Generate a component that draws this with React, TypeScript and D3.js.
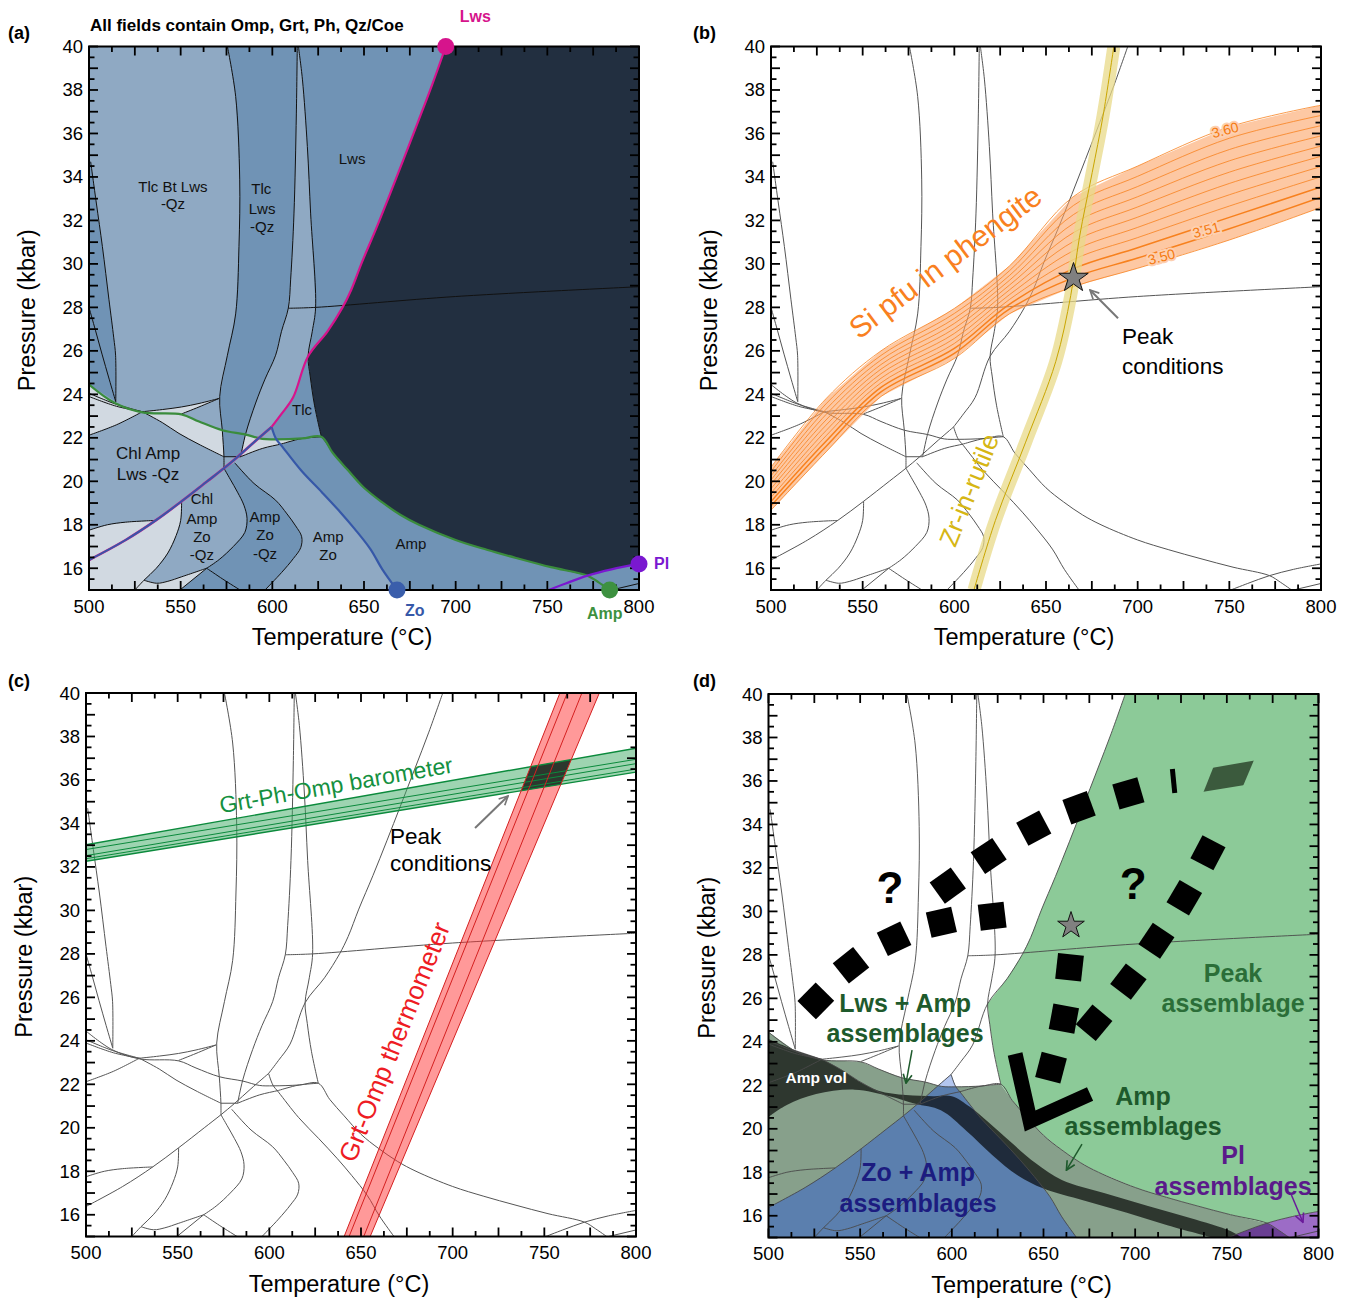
import { useEffect, useRef } from 'react'
import * as d3 from 'd3'

type Pt = [number, number]

// ---- phase boundaries, [T (°C), P (kbar)], shared by all four panels ----
const lwsOut: Pt[] = [[694.6, 40], [687, 38.2], [679.3, 36.5], [671.5, 34.8], [664.1, 33.2], [656.5, 31.6], [648.8, 30.06], [643, 28.8], [638.3, 28.0], [630.1, 26.9], [619.5, 25.75], [611.3, 23.85], [605, 23.1], [599.6, 22.5]]
const zoIn: Pt[] = [[599.6, 22.5], [590, 21.8], [581, 21.12], [573.6, 20.6], [564.5, 20.0], [550.5, 19.08], [536.4, 18.2], [520, 17.3], [500, 16.38]]
const zoOut: Pt[] = [[599.6, 22.5], [602, 21.96], [605, 21.64], [616, 20.47], [627, 19.5], [637.1, 18.58], [645, 17.8], [653.5, 16.88], [660, 15.95], [668, 15]]
const ampOut: Pt[] = [[500, 24.45], [514.1, 23.6], [529.2, 23.17], [550.4, 23.08], [560, 22.75], [572.7, 22.35], [585.5, 22.15], [594.5, 21.95], [602, 21.93], [616.4, 21.97], [626.7, 22.05], [633, 21.3], [640.8, 20.55], [650, 19.7], [659.6, 19.05], [670, 18.45], [680, 18.0], [700, 17.3], [717, 16.85], [734, 16.45], [752, 16.05], [771.9, 15.66], [778, 15.35], [784, 15]]
const plIn: Pt[] = [[750.8, 15], [760, 15.3], [771.9, 15.66], [785, 15.95], [800, 16.2]]

const line1: Pt[] = [[500.9, 34.7], [504, 32.8], [507.3, 30.8], [510.9, 28.35], [513.5, 26.6], [514.5, 25.8], [514.6, 23.66]]
const line2: Pt[] = [[500, 28.0], [503.5, 26.95], [507.1, 25.85], [511, 24.7], [514.6, 23.66]]
const line3: Pt[] = [[575.5, 40], [580, 37.7], [582.2, 33.9], [581.8, 30.8], [580, 27.7], [575.5, 25.8], [571.3, 23.9], [572.7, 22.35], [573.6, 21.13], [573.6, 20.6]]
const line4: Pt[] = [[613.6, 40], [613.1, 36.9], [611.8, 32.3], [610, 29.3], [608.7, 27.96], [605, 26.9], [601.8, 25.8], [596, 24.7], [590.9, 23.6], [585.5, 22.2], [582.7, 21.13]]
const line5: Pt[] = [[614.2, 40], [616.4, 38.5], [619.1, 35.4], [620.9, 32.3], [623.6, 28.0], [621.8, 26.9], [619.5, 25.75], [620.7, 24.8], [623, 23.5], [626.7, 22.05]]
const line6: Pt[] = [[608.7, 27.96], [623.6, 28.0], [700, 28.5], [800, 28.95]]
const line7: Pt[] = [[573.6, 21.13], [582.7, 21.13]]
const line8: Pt[] = [[582.7, 21.13], [594.5, 21.51], [605, 21.72], [609.1, 21.82], [616.4, 21.97], [626.7, 22.05]]
const line9: Pt[] = [[573.6, 20.6], [577, 20.1], [581, 19.5], [584.5, 18.9], [586.2, 18.3], [585, 17.65], [578.7, 17.0], [571, 16.4], [564.2, 16.0]]
const line10: Pt[] = [[564.2, 16.0], [573, 15.5], [582.4, 15]]
const line11: Pt[] = [[564.2, 16.0], [549.6, 15]]
const line12: Pt[] = [[530, 15.45], [536.9, 15.31], [543, 15.4], [550.6, 15.61], [564.2, 16.0]]
const line13: Pt[] = [[550.5, 19.08], [550, 18.2], [547.5, 17.5], [543, 16.7], [536.7, 16.0], [530, 15.45], [525, 15]]
const line14: Pt[] = [[579.5, 20.85], [590, 19.9], [601.8, 19.13], [608, 18.5], [612.7, 17.95], [616, 17.45], [615.5, 16.95], [611.5, 16.45], [605, 15.8], [596, 15]]
const line15: Pt[] = [[500, 17.75], [510, 18.0], [520, 18.12], [536.4, 18.2]]
const line16: Pt[] = [[529.1, 23.2], [540, 22.7], [549.1, 22.2], [560, 21.7], [573.6, 21.13]]
const line17: Pt[] = [[500, 22.12], [515, 22.6], [529.1, 23.2]]
const line18: Pt[] = [[500, 24.05], [514.6, 23.55], [529.1, 23.2]]
const line19: Pt[] = [[500, 23.9], [515, 23.45], [529.1, 23.2]]
const line20: Pt[] = [[529.1, 23.2], [540, 23.3], [550.5, 23.42], [560, 23.58], [570.9, 23.81]]
const line21: Pt[] = [[550.5, 23.1], [560, 23.42], [570.9, 23.81]]
const line22: Pt[] = [[785, 15], [800, 15.3]]
const blackLines = [line1, line2, line3, line4, line5, line6, line7, line8, line9, line10, line11, line12, line13, line14, line15, line16, line17, line18, line19, line20, line21, line22]
const colouredLines = [lwsOut, zoIn, zoOut, ampOut, plIn]

// ---- (b) Si-in-phengite isopleths and Zr-in-rutile ----
const siT = [500, 530, 560, 600, 630, 665, 700, 750, 800]
const siIsopleths: number[][] = [
  [18.67, 21.35, 23.9, 25.65, 27.7, 28.95, 29.8, 31.1, 32.6],
  [18.87, 21.6, 24.11, 25.88, 27.92, 29.37, 30.27, 31.62, 33.07],
  [19.07, 21.84, 24.32, 26.11, 28.14, 29.78, 30.74, 32.14, 33.54],
  [19.26, 22.09, 24.53, 26.34, 28.36, 30.2, 31.21, 32.66, 34.01],
  [19.46, 22.33, 24.74, 26.57, 28.58, 30.61, 31.68, 33.18, 34.48],
  [19.66, 22.58, 24.95, 26.8, 28.8, 31.03, 32.15, 33.7, 34.95],
  [19.86, 22.82, 25.16, 27.03, 29.02, 31.44, 32.62, 34.22, 35.42],
  [20.06, 23.07, 25.37, 27.26, 29.24, 31.86, 33.09, 34.74, 35.89],
  [20.25, 23.31, 25.58, 27.49, 29.46, 32.27, 33.56, 35.26, 36.36],
  [20.45, 23.56, 25.79, 27.72, 29.68, 32.69, 34.03, 35.78, 36.83],
  [20.65, 23.8, 26.0, 27.95, 29.9, 33.1, 34.5, 36.3, 37.3],
]
const siLabelText = ['3.50', '3.51', '3.60']
const siLabelT = [713, 737.4, 747.7]
const siLabelP = [30.33, 31.56, 36.16]
const zrRutile: Pt[] = [[610.7, 15], [622.4, 18.2], [638.9, 21.8], [655.3, 25.5], [663.5, 28.55], [668.2, 31.2], [675.2, 34.2], [681.1, 36.8], [687, 40]]
const peak: Pt = [665, 29.35]

// ---- (c) barometer / thermometer ----
const baroLines: Pt[][] = [
  [[500, 33.02], [800, 37.46]],
  [[500, 32.8], [800, 36.95]],
  [[500, 32.52], [800, 36.75]],
  [[500, 32.38], [800, 36.5]],
  [[500, 32.26], [800, 36.36]],
]
const thermoLines: Pt[][] = [
  [[640.8, 15], [758.5, 40]],
  [[643.5, 15], [762.5, 40]],
  [[651.5, 15], [770.5, 40]],
  [[655, 15], [780, 40]],
]

// ---- (d) assemblage interpretation ----
const ampVolTop: Pt[] = [[500, 24.13], [514.5, 23.62], [529, 23.2], [540, 22.7], [549, 22.2], [560, 21.75], [575, 21.55], [590, 21.5], [600, 21.5], [610, 21.0], [620, 20.3], [632, 19.4], [646, 18.4], [660, 17.65], [683, 17.05], [707, 16.45], [730, 15.9], [752, 15.3], [758, 15]]
const ampVolBottom: Pt[] = [[500, 20.55], [510, 21.1], [526, 21.6], [547, 21.8], [566, 21.5], [580, 21.15], [594, 20.85], [608, 19.9], [622, 18.8], [636, 17.85], [650, 17.25], [672, 16.7], [695, 16.15], [718, 15.55], [742, 15]]
const pathA: Pt[] = [[525.8, 25.88], [545, 27.52], [568.5, 28.74], [594.3, 29.5], [622, 29.78]]
const pathB: Pt[] = [[597.8, 31.19], [620.1, 32.55], [644.7, 33.83], [669.4, 34.77], [696.3, 35.43]]
const pathC: Pt[] = [[739.7, 32.7], [726.8, 30.63], [711.6, 28.65], [696.3, 26.77], [677.6, 24.88]]
const pathD: Pt[] = [[664.2, 27.43], [661.1, 25.07], [654.1, 22.81]]
const pathTick: Pt[] = [[720.3, 36.55], [721.6, 35.45]]
const exhumationArrow: Pt[] = [[634.5, 23.44], [642.7, 20.36], [675.4, 21.6]]

const xTickValues = [500, 550, 600, 650, 700, 750, 800]
const yTickValues = [16, 18, 20, 22, 24, 26, 28, 30, 32, 34, 36, 38, 40]

const W = 550
const H = 543.5
const FONT = 'Liberation Sans, Arial, Helvetica, sans-serif'

function makePanel(svg: any, id: string, x0: number, y0: number) {
  const x = d3.scaleLinear().domain([500, 800]).range([0, W])
  const y = d3.scaleLinear().domain([15, 40]).range([H, 0])
  const g = svg.append('g').attr('transform', `translate(${x0},${y0})`)
  g.append('clipPath').attr('id', 'clip-' + id).append('rect').attr('width', W).attr('height', H)
  const plot = g.append('g').attr('clip-path', `url(#clip-${id})`)
  // curves for boundary lines, straight edges for filled fields
  const line = d3.line<Pt>().x(d => x(d[0])).y(d => y(d[1])).curve(d3.curveCatmullRom.alpha(0.5))
  const straight = d3.line<Pt>().x(d => x(d[0])).y(d => y(d[1]))
  const poly = (pts: Pt[]) => straight(pts) + 'Z'
  const fill = (pts: Pt[], color: string, opacity = 1, into: any = plot) =>
    into.append('path').attr('d', poly(pts)).attr('fill', color).attr('fill-opacity', opacity)
  const stroke = (pts: Pt[], color: string, width: number, into: any = plot) =>
    into.append('path').attr('d', line(pts)).attr('fill', 'none').attr('stroke', color)
      .attr('stroke-width', width).attr('stroke-linejoin', 'round')
  return { id, g, plot, x, y, line, straight, poly, fill, stroke }
}

function text(g: any, px: number, py: number, s: string, o: any = {}) {
  const t = g.append('text').attr('x', px).attr('y', py).text(s)
    .attr('font-family', FONT).attr('font-size', o.size || 14)
    .attr('font-weight', o.weight || 'normal').attr('fill', o.fill || '#000')
    .attr('text-anchor', o.anchor || 'middle').attr('dominant-baseline', o.baseline || 'central')
  if (o.rotate) t.attr('transform', `rotate(${o.rotate},${px},${py})`)
  if (o.halo) t.attr('stroke', o.halo).attr('stroke-width', 4).attr('paint-order', 'stroke')
  return t
}

function drawAxes(p: any) {
  const { g, x, y } = p
  const ticks = g.append('g').attr('stroke', '#000').attr('stroke-width', 1.8)
  d3.range(500, 800.001, 12.5).forEach(t => {
    const len = t % 25 === 0 ? 9 : 5.5
    ticks.append('line').attr('x1', x(t)).attr('x2', x(t)).attr('y1', H).attr('y2', H - len)
    ticks.append('line').attr('x1', x(t)).attr('x2', x(t)).attr('y1', 0).attr('y2', len)
  })
  d3.range(15, 40.001, 0.5).forEach(v => {
    const len = v % 1 === 0 ? 9 : 5.5
    ticks.append('line').attr('y1', y(v)).attr('y2', y(v)).attr('x1', 0).attr('x2', len)
    ticks.append('line').attr('y1', y(v)).attr('y2', y(v)).attr('x1', W).attr('x2', W - len)
  })
  g.append('rect').attr('width', W).attr('height', H).attr('fill', 'none').attr('stroke', '#000').attr('stroke-width', 2)
  xTickValues.forEach(t => text(g, x(t), H + 16, String(t), { size: 18.5 }))
  yTickValues.forEach(v => text(g, -6, y(v), String(v), { size: 18.5, anchor: 'end' }))
  text(g, W / 2 - 22, H + 47, 'Temperature (°C)', { size: 23.5 })
  text(g, -62, H / 2 - 8, 'Pressure (kbar)', { size: 23.5, rotate: -90 })
}

function network(p: any, color: string, width: number) {
  const grp = p.plot.append('g')
  ;[...blackLines, ...colouredLines].forEach(l => p.stroke(l, color, width, grp))
}

function screenAngle(p: any, a: Pt, b: Pt) {
  return Math.atan2(p.y(b[1]) - p.y(a[1]), p.x(b[0]) - p.x(a[0])) * 180 / Math.PI
}

export default function App() {
  const ref = useRef<SVGSVGElement>(null)
  useEffect(() => {
    const svg = d3.select(ref.current)
    svg.selectAll('*').remove()
    const defs = svg.append('defs')
    const marker = (id: string, color: string) =>
      defs.append('marker').attr('id', id).attr('viewBox', '0 0 10 10').attr('refX', 9).attr('refY', 5)
        .attr('markerWidth', 11).attr('markerHeight', 11).attr('markerUnits', 'userSpaceOnUse').attr('orient', 'auto')
        .append('path').attr('d', 'M1,1 L9,5 L1,9').attr('fill', 'none').attr('stroke', color).attr('stroke-width', 1.5)
    marker('arr-gray', '#777')
    marker('arr-green', '#1e5a2c')
    marker('arr-purple', '#6a1a9a')

    const iKink = 10
    const iPl = 21
    const darkField: Pt[] = [...lwsOut.slice(0, iKink + 1), ...line5.slice(7), ...ampOut.slice(11, iPl + 1), ...plIn.slice(3), [800, 40]]

    // ================= (a) =================
    const a = makePanel(svg, 'a', 89, 46.5)
    a.plot.append('rect').attr('width', W).attr('height', H).attr('fill', '#8fa9c3')
    const mid = '#7093b5'
    const pale = '#d1d9e1'
    a.fill([[500, 34.7], ...line1, ampOut[0]], mid)
    a.fill([...line3.slice(0, 9), ...line4.slice().reverse()], mid)
    a.fill([...line5.slice(0, 7), ...lwsOut.slice(0, iKink + 1).reverse()], mid)
    a.fill([...lwsOut.slice(iKink), ...ampOut.slice(8, 11), ...line5.slice(6).reverse()], mid)
    a.fill([...line8.slice(2), ...ampOut.slice(11, iPl + 1), ...plIn.slice(3), [800, 15], ...zoOut.slice(2).reverse()], mid)
    a.fill([...line14, ...line11.slice().reverse(), ...line9.slice().reverse()], mid)
    a.fill([...line15, zoIn[5], ...line13.slice(0, 6), ...line12.slice(1), ...line11.slice(1), [500, 15]], pale)
    a.fill([...ampOut.slice(6, 11), ...line8.slice().reverse()], pale)
    a.fill([...ampOut.slice(2, 6), line3[8], ...line16.slice().reverse()], pale)
    a.fill([...ampOut.slice(0, 3), ...line17.slice().reverse()], pale)
    a.fill([...line20, ...line21.slice().reverse()], pale)
    a.fill(darkField, '#222f40')
    blackLines.forEach(l => a.stroke(l, '#111', 1))
    a.stroke(ampOut, '#3a8c3c', 2.2)
    a.stroke(zoOut, '#3658a8', 2.2)
    a.stroke(zoIn, '#d6148c', 2.6)
    a.stroke(zoIn, '#3658a8', 2)
    a.stroke(lwsOut, '#d6148c', 2.2)
    a.stroke(plIn, '#7a18d0', 2.2)
    drawAxes(a)
    const dot = (pt: Pt, c: string) => a.g.append('circle').attr('cx', a.x(pt[0])).attr('cy', a.y(pt[1])).attr('r', 8.5).attr('fill', c)
    dot(lwsOut[0], '#d6148c')
    dot(zoOut[zoOut.length - 1], '#3a5eab')
    dot(ampOut[ampOut.length - 1], '#3d9140')
    dot(plIn[plIn.length - 1], '#7a18d0')
    text(a.g, a.x(lwsOut[0][0]) + 14, -30, 'Lws', { size: 16, weight: 'bold', fill: '#d6148c', anchor: 'start' })
    text(a.g, a.x(668) + 8, H + 20, 'Zo', { size: 16, weight: 'bold', fill: '#3658a8', anchor: 'start' })
    text(a.g, a.x(784) - 5, H + 23, 'Amp', { size: 16, weight: 'bold', fill: '#3d9140' })
    text(a.g, W + 15, a.y(16.2), 'Pl', { size: 16, weight: 'bold', fill: '#7a18d0', anchor: 'start' })
    text(a.g, 1, -21, 'All fields contain Omp, Grt, Ph, Qz/Coe', { size: 17, weight: 'bold', anchor: 'start' })
    const fl = (T: number, P: number, s: string, size = 15, col = '#111') => text(a.g, a.x(T), a.y(P), s, { size, fill: col })
    fl(545.8, 33.58, 'Tlc Bt Lws'); fl(545.8, 32.76, '-Qz')
    fl(594, 33.45, 'Tlc'); fl(594.4, 32.57, 'Lws'); fl(594.4, 31.74, '-Qz')
    fl(643.5, 34.87, 'Lws')
    fl(616.2, 23.28, 'Tlc')
    fl(532.2, 21.3, 'Chl Amp', 17); fl(532.2, 20.29, 'Lws -Qz', 17)
    fl(561.6, 19.19, 'Chl'); fl(561.6, 18.31, 'Amp'); fl(561.6, 17.44, 'Zo'); fl(561.6, 16.61, '-Qz')
    fl(596, 18.4, 'Amp'); fl(596, 17.53, 'Zo'); fl(596, 16.7, '-Qz')
    fl(630.4, 17.48, 'Amp'); fl(630.4, 16.61, 'Zo')
    fl(675.6, 17.12, 'Amp')

    // ================= (b) =================
    const b = makePanel(svg, 'b', 771, 46.5)
    b.plot.append('rect').attr('width', W).attr('height', H).attr('fill', '#fff')
    network(b, '#555', 1)
    const upper = siIsopleths[siIsopleths.length - 1]
    const lower = siIsopleths[0]
    const bandPts: Pt[] = [...siT.map((t, i) => [t, upper[i]] as Pt), ...siT.map((t, i) => [t, lower[i]] as Pt).reverse()]
    b.fill(bandPts, '#fca466', 0.6)
    siIsopleths.forEach((iso, k) => b.stroke(siT.map((t, i) => [t, iso[i]] as Pt), '#f7811e', k === 1 || k === 2 ? 1.5 : 0.8))
    siLabelText.forEach((s, j) => {
      const T = siLabelT[j]
      const P = siLabelP[j]
      const ang = screenAngle(b, [T - 20, P - 0.45], [T + 20, P + 0.45])
      text(b.plot, b.x(T), b.y(P), s, { size: 14, fill: '#f57a10', rotate: ang, halo: '#fdd0b0' })
    })
    b.plot.append('path').attr('d', b.line(zrRutile)).attr('fill', 'none').attr('stroke', '#e8da88')
      .attr('stroke-opacity', 0.75).attr('stroke-width', 13)
    b.stroke(zrRutile, '#c9a500', 1)
    text(b.g, b.x(595), b.y(30.1), 'Si pfu in phengite', { size: 30, fill: '#f98020', rotate: -37 })
    text(b.g, b.x(608), b.y(19.6), 'Zr-in-rutile', { size: 26, fill: '#d6b614', rotate: -68 })
    const star = (p: any, size: number) => p.g.append('path')
      .attr('d', d3.symbol(d3.symbolStar, size)())
      .attr('transform', `translate(${p.x(peak[0])},${p.y(peak[1])})`)
      .attr('fill', '#808080').attr('stroke', '#111').attr('stroke-width', 1)
    star(b, 270)
    b.g.append('line').attr('x1', b.x(689.3)).attr('y1', b.y(27.5)).attr('x2', b.x(674)).attr('y2', b.y(28.8))
      .attr('stroke', '#777').attr('stroke-width', 2).attr('marker-end', 'url(#arr-gray)')
    text(b.g, b.x(691.5), b.y(26.64), 'Peak', { size: 22.5, anchor: 'start' })
    text(b.g, b.x(691.5), b.y(25.3), 'conditions', { size: 22.5, anchor: 'start' })
    drawAxes(b)

    // ================= (c) =================
    const c = makePanel(svg, 'c', 86, 693)
    c.plot.append('rect').attr('width', W).attr('height', H).attr('fill', '#fff')
    network(c, '#555', 1)
    const baroPoly: Pt[] = [baroLines[0][0], baroLines[0][1], baroLines[4][1], baroLines[4][0]]
    const thermoPoly: Pt[] = [thermoLines[0][0], thermoLines[0][1], thermoLines[3][1], thermoLines[3][0]]
    c.fill(baroPoly, '#3daa64', 0.5)
    c.fill(thermoPoly, '#ff3333', 0.5)
    const overlap = (p: any, color: string) => {
      p.g.append('clipPath').attr('id', 'thermo-' + p.id).append('path').attr('d', p.poly(thermoPoly))
      p.plot.append('g').attr('clip-path', `url(#thermo-${p.id})`)
        .append('path').attr('d', p.poly(baroPoly)).attr('fill', color)
    }
    overlap(c, '#2d372e')
    baroLines.forEach((l, i) => c.stroke(l, '#0b8a3c', i === 0 || i === 4 ? 1.4 : 1))
    thermoLines.forEach(l => c.stroke(l, '#d42020', 1))
    text(c.g, c.x(636.4), c.y(35.77), 'Grt-Ph-Omp barometer', { size: 23, fill: '#149040', rotate: -10 })
    text(c.g, c.x(668.2), c.y(23.95), 'Grt-Omp thermometer', { size: 26, fill: '#ee1c24', rotate: -68 })
    c.g.append('line').attr('x1', c.x(712.2)).attr('y1', c.y(33.79)).attr('x2', c.x(730.2)).attr('y2', c.y(35.26))
      .attr('stroke', '#777').attr('stroke-width', 2).attr('marker-end', 'url(#arr-gray)')
    text(c.g, c.x(665.8), c.y(33.4), 'Peak', { size: 22.5, anchor: 'start' })
    text(c.g, c.x(665.8), c.y(32.17), 'conditions', { size: 22.5, anchor: 'start' })
    drawAxes(c)

    // ================= (d) =================
    const d = makePanel(svg, 'd', 768.5, 694)
    d.plot.append('rect').attr('width', W).attr('height', H).attr('fill', '#fff')
    d.fill([...ampOut, [500, 15]], '#87a08b')
    const zoField: Pt[] = [...zoIn.slice().reverse(), ...zoOut.slice(1), [500, 15]]
    d.fill(zoField, '#5b7fae')
    d.g.append('clipPath').attr('id', 'above-amp').append('path').attr('d', d.poly([[500, 40], ...ampOut, [800, 15], [800, 40]]))
    d.plot.append('g').attr('clip-path', 'url(#above-amp)').append('path').attr('d', d.poly(zoField)).attr('fill', '#b3c6ef')
    d.fill(darkField, '#8cca98')
    d.fill([...plIn, [800, 15]], '#9c6cc6')
    d.fill([...plIn.slice(0, 3), ...ampOut.slice(22)], '#6a3f93')
    d.plot.append('path').attr('d', d.line(ampVolTop) + 'L' + d.line(ampVolBottom.slice().reverse())!.slice(1) + 'Z')
      .attr('fill', '#000').attr('fill-opacity', 0.66)
    network(d, '#4a4a4a', 0.9)
    overlap(d, '#3b5a3d')
    const squares = (pts: Pt[]) => pts.forEach((pt, i) => {
      const pa = pts[Math.max(0, i - 1)]
      const pb = pts[Math.min(pts.length - 1, i + 1)]
      const ang = screenAngle(d, pa, pb)
      d.g.append('rect').attr('x', -13).attr('y', -13).attr('width', 26).attr('height', 26).attr('fill', '#000')
        .attr('transform', `translate(${d.x(pt[0])},${d.y(pt[1])}) rotate(${ang})`)
    })
    ;[pathA, pathB, pathC, pathD].forEach(squares)
    d.g.append('path').attr('d', d.straight(pathTick)).attr('stroke', '#000').attr('stroke-width', 5)
    d.g.append('path').attr('d', d.straight(exhumationArrow)).attr('fill', 'none').attr('stroke', '#000')
      .attr('stroke-width', 15).attr('stroke-linejoin', 'miter')
    text(d.g, d.x(566.3), d.y(31.08), '?', { size: 44, weight: 'bold' })
    text(d.g, d.x(698.9), d.y(31.3), '?', { size: 44, weight: 'bold' })
    star(d, 220)
    const dl = (T: number, P: number, s: string, col: string, size = 25) => text(d.g, d.x(T), d.y(P), s, { size, weight: 'bold', fill: col })
    dl(574.5, 25.79, 'Lws + Amp', '#1e5a2c'); dl(574.5, 24.41, 'assemblages', '#1e5a2c')
    dl(753.4, 27.17, 'Peak', '#2b6e38'); dl(753.4, 25.79, 'assemblage', '#2b6e38')
    dl(704.3, 21.51, 'Amp', '#1e5a2c'); dl(704.3, 20.13, 'assemblages', '#1e5a2c')
    dl(581.6, 18.01, 'Zo + Amp', '#1c1c80'); dl(581.6, 16.59, 'assemblages', '#1c1c80')
    dl(753.4, 18.79, 'Pl', '#5a1a8a'); dl(753.4, 17.37, 'assemblages', '#5a1a8a')
    text(d.g, d.x(526), d.y(22.34), 'Amp vol', { size: 15.5, weight: 'bold', fill: '#fff' })
    const arrow = (t1: Pt, t2: Pt, id: string, col: string) => d.g.append('line')
      .attr('x1', d.x(t1[0])).attr('y1', d.y(t1[1])).attr('x2', d.x(t2[0])).attr('y2', d.y(t2[1]))
      .attr('stroke', col).attr('stroke-width', 1.5).attr('marker-end', `url(#${id})`)
    arrow([578.3, 23.62], [575, 22.1], 'arr-green', '#1e5a2c')
    arrow([671, 19.3], [662.5, 18.1], 'arr-green', '#1e5a2c')
    arrow([785, 17.0], [791.5, 15.7], 'arr-purple', '#6a1a9a')
    drawAxes(d)

    // panel letters
    ;[['(a)', 8, 33], ['(b)', 693, 33], ['(c)', 8, 681], ['(d)', 693, 681]].forEach(([s, px, py]) =>
      text(svg, px as number, py as number, s as string, { size: 18, weight: 'bold', anchor: 'start' }))
  }, [])
  return (
    <svg ref={ref} width={1352} height={1301}
      style={{ position: 'absolute', left: 0, top: 0, background: '#fff' }} />
  )
}
